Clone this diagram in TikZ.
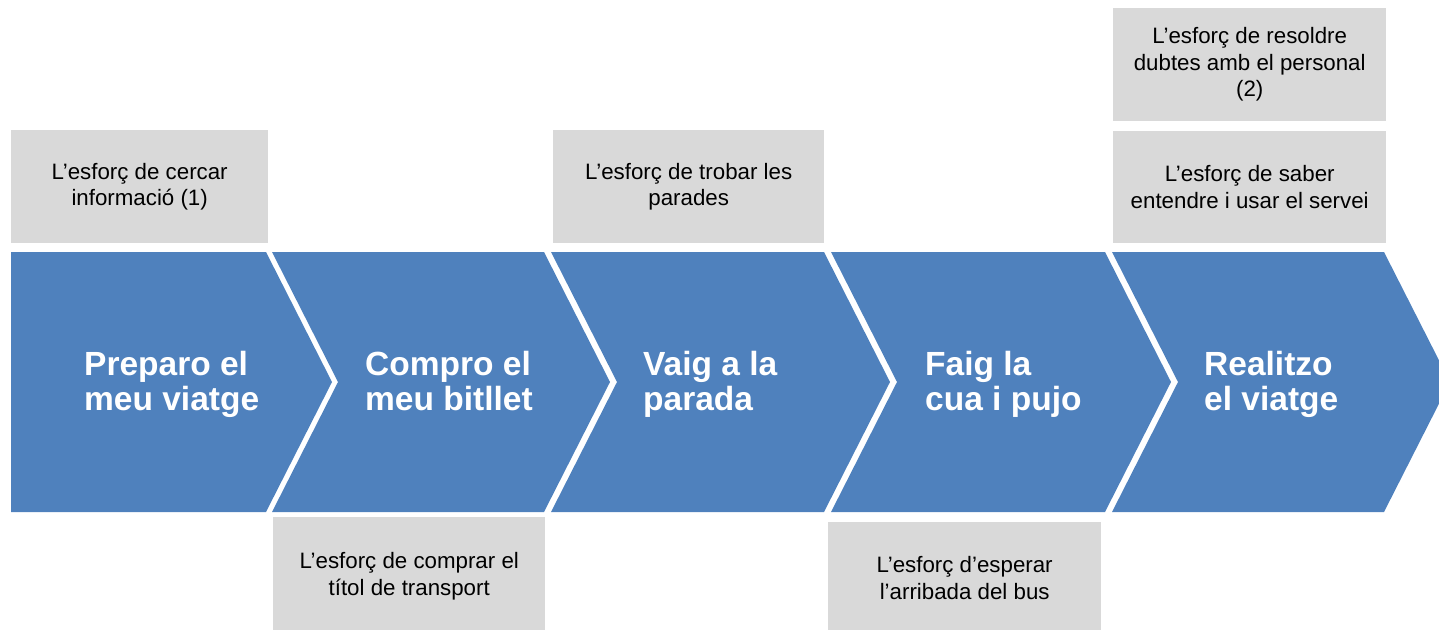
\documentclass[tikz,border=0pt]{standalone}
\usepackage{fontspec}
\setmainfont{Liberation Sans}
\definecolor{chevblue}{HTML}{4F81BD}
\definecolor{effortgray}{HTML}{D9D9D9}
\begin{document}
\begin{tikzpicture}[x=1pt, y=-1pt,
    chev/.style={fill=chevblue},
    step node/.style={font=\bfseries\fontsize{33.5}{35.5}\selectfont, text=white, align=left, anchor=west, inner sep=0pt},
    effort node/.style={fill=effortgray, font=\fontsize{22.3}{26.5}\selectfont, align=center, anchor=north west, inner sep=0pt}]
    \useasboundingbox (0,0) rectangle (1439,629);
    \clip (0,0) rectangle (1439,629);

    % the five steps
    \fill[chev] (11,252) -- (266,252) -- (332,382) -- (266,512) -- (11,512) -- cycle;
    \fill[chev] (272,252) -- (544,252) -- (610,382) -- (544,512) -- (272,512) -- (338,382) -- cycle;
    \fill[chev] (551,252) -- (824,252) -- (890,382) -- (824,512) -- (551,512) -- (617,382) -- cycle;
    \fill[chev] (831,252) -- (1105,252) -- (1171,382) -- (1105,512) -- (831,512) -- (897,382) -- cycle;
    \fill[chev] (1112,252) -- (1384,252) -- (1450,382) -- (1384,512) -- (1112,512) -- (1178,382) -- cycle;

    \node[step node] at (84, 386) (prepare) {\strut Preparo el\\\strut meu viatge};
    \node[step node] at (365, 386) (buy) {\strut Compro el\\\strut meu bitllet};
    \node[step node] at (643, 386) (stop) {\strut Vaig a la\\\strut parada};
    \node[step node] at (925, 386) (board) {\strut Faig la\\\strut cua i pujo};
    \node[step node] at (1204, 386) (trip) {\strut Realitzo\\\strut el viatge};

    % the efforts
    \node[effort node, minimum width=257pt, minimum height=113pt] at (11, 130) (search) {L’esforç de cercar\\informació (1)};
    \node[effort node, minimum width=272pt, minimum height=118pt] at (273, 517) (ticket) {L’esforç de comprar el\\títol de transport};
    \node[effort node, minimum width=271pt, minimum height=113pt] at (553, 130) (find) {L’esforç de trobar les\\parades};
    \node[effort node, minimum width=273pt, minimum height=112pt] at (828, 522) (wait) {L’esforç d’esperar\\l’arribada del bus};
    \node[effort node, minimum width=273pt, minimum height=113pt] at (1113, 8) (staff) {L’esforç de resoldre\\dubtes amb el personal\\(2)};
    \node[effort node, minimum width=273pt, minimum height=112pt] at (1113, 131) (use) {L’esforç de saber\\entendre i usar el servei};
\end{tikzpicture}
\end{document}
